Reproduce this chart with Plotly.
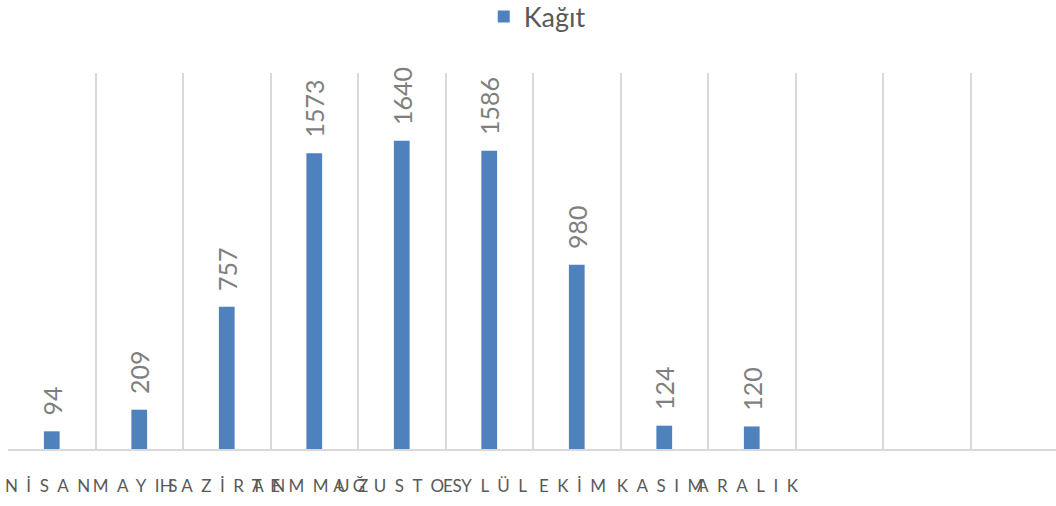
import plotly.graph_objects as go

categories = ["NİSAN", "MAYIS", "HAZİRAN", "TEMMUZ", "AĞUSTOS", "EYLÜL", "EKİM", "KASIM", "ARALIK"]
values = [94, 209, 757, 1573, 1640, 1586, 980, 124, 120]
series_name = "Kağıt"
n_slots = 12  # the chart reserves 12 month slots, last three empty

BAR_COLOR = "#4F81BD"
GRID_COLOR = "#D9D9D9"
FONT = "Lato"

xs = list(range(len(categories)))

fig = go.Figure()
fig.add_trace(go.Bar(
    x=xs,
    y=values,
    name=series_name,
    marker=dict(color=BAR_COLOR, line=dict(width=0)),
    width=0.18,
    text=["\u00a0\u00a0" + str(v) for v in values],
    textposition="outside",
    textangle=-90,
    constraintext="none",
    cliponaxis=False,
    textfont=dict(family=FONT, size=25, color="#7F7F7F"),
    hoverinfo="x+y",
))

ticktext = ['<span style="letter-spacing:8.5px">' + c + '</span>' for c in categories]

fig.update_layout(
    width=1056,
    height=506,
    margin=dict(l=8, r=0, t=73, b=57, autoexpand=False),
    paper_bgcolor="white",
    plot_bgcolor="white",
    font=dict(family=FONT, color="#595959"),
    showlegend=True,
    legend=dict(
        orientation="h",
        x=0.505, xanchor="center",
        yref="paper", y=1.149, yanchor="middle",
        font=dict(family=FONT, size=27, color="#595959"),
        bgcolor="rgba(0,0,0,0)",
    ),
    xaxis=dict(
        range=[-0.5, -0.5 + 1048 / 87.5],
        tickmode="array",
        tickvals=xs,
        ticktext=ticktext,
        tickangle=0,
        ticks="",
        automargin=False,
        showgrid=False,
        zeroline=False,
        showline=True,
        linecolor=GRID_COLOR,
        linewidth=1.5,
        tickfont=dict(family=FONT, size=17, color="#595959"),
        ticklabelstandoff=21,
        minor=dict(tick0=-0.5, dtick=1, showgrid=True, gridcolor=GRID_COLOR, gridwidth=1.5, ticks=""),
        fixedrange=True,
    ),
    yaxis=dict(
        range=[0, 2000],
        automargin=False,
        showgrid=False,
        zeroline=False,
        showticklabels=False,
        ticks="",
        fixedrange=True,
    ),
)

fig.write_html(
    "out.html",
    config={"displayModeBar": False},
    post_script="document.body.style.margin='0';",
)
